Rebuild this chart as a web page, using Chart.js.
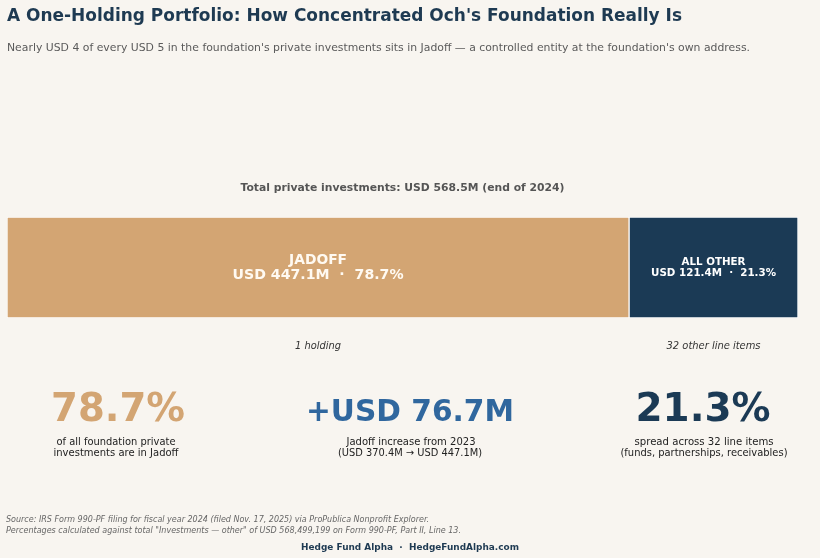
<!DOCTYPE html>
<html><head><meta charset="utf-8">
<script src="https://cdn.jsdelivr.net/npm/chart.js@4/dist/chart.umd.min.js"></script>
<style>html,body{margin:0;padding:0;background:#f8f5f0;}canvas{display:block;}</style>
</head><body>
<canvas id="c" width="820" height="558"></canvas>
<script>
const segmentNames = ['JADOFF', 'ALL OTHER'];
const segmentValues = [447.1, 121.4];          // USD millions
const segmentPercents = [78.7, 21.3];
const segmentNotes = ['1 holding', '32 other line items'];
const totalValue = 568.5;
const prior2023 = 370.4;
const increase = 76.7;
const segmentColors = ['#d3a573', '#1b3a55'];

const BG = '#f8f5f0';
const NAVY = '#1e3a52';

// draw text with natural proportions, sized so that it spans the given width
function fitText(ctx, text, x, y, font, color, align, width) {
  ctx.save();
  ctx.font = font;
  ctx.fillStyle = color;
  ctx.textBaseline = 'alphabetic';
  const m = ctx.measureText(text).width;
  const s = width ? width / m : 1;
  ctx.translate(x, y);
  ctx.scale(s, s);
  ctx.textAlign = align;
  ctx.fillText(text, 0, 0);
  ctx.restore();
}

const F = '"DejaVu Sans", sans-serif';

const overlay = {
  id: 'overlay',
  beforeDraw(chart) {
    const ctx = chart.ctx;
    ctx.save();
    ctx.fillStyle = BG;
    ctx.fillRect(0, 0, chart.width, chart.height);
    ctx.restore();
  },
  afterDraw(chart) {
    const ctx = chart.ctx;
    fitText(ctx, "A One-Holding Portfolio: How Concentrated Och's Foundation Really Is", 7, 21, 'bold 16px ' + F, NAVY, 'left', 675);
    fitText(ctx, "Nearly USD 4 of every USD 5 in the foundation's private investments sits in Jadoff \u2014 a controlled entity at the foundation's own address.", 7, 51, '11px ' + F, '#5a5a5a', 'left', 743);
    const area = chart.chartArea;
    const cx = (area.left + area.right) / 2;
    fitText(ctx, 'Total private investments: USD ' + totalValue.toFixed(1) + 'M (end of 2024)', cx, 191, 'bold 11px ' + F, '#555555', 'center', 324);

    const meta0 = chart.getDatasetMeta(0).data[0];
    const meta1 = chart.getDatasetMeta(1).data[0];
    const c0 = (meta0.base + meta0.x) / 2;
    const c1 = (meta1.base + meta1.x) / 2;
    fitText(ctx, segmentNames[0], c0, 264, 'bold 14px ' + F, '#fffaf2', 'center', 58);
    fitText(ctx, 'USD ' + segmentValues[0].toFixed(1) + 'M  \u00b7  ' + segmentPercents[0].toFixed(1) + '%', c0, 279, 'bold 14px ' + F, '#fffaf2', 'center', 171);
    fitText(ctx, segmentNames[1], c1, 265, 'bold 10px ' + F, '#ffffff', 'center', 64);
    fitText(ctx, 'USD ' + segmentValues[1].toFixed(1) + 'M  \u00b7  ' + segmentPercents[1].toFixed(1) + '%', c1, 276, 'bold 10px ' + F, '#ffffff', 'center', 125);

    fitText(ctx, segmentNotes[0], c0, 349, 'italic 9px ' + F, '#333333', 'center', 46);
    fitText(ctx, segmentNotes[1], c1, 349, 'italic 9px ' + F, '#333333', 'center', 94);

    fitText(ctx, segmentPercents[0].toFixed(1) + '%', 118, 421, 'bold 38px ' + F, segmentColors[0], 'center', 134);
    fitText(ctx, '+USD ' + increase.toFixed(1) + 'M', 410, 421, 'bold 30px ' + F, '#30679e', 'center', 208);
    fitText(ctx, segmentPercents[1].toFixed(1) + '%', 703, 421, 'bold 38px ' + F, segmentColors[1], 'center', 135);

    const cap = '10px ' + F;
    fitText(ctx, 'of all foundation private', 116, 445, cap, '#222222', 'center', 119);
    fitText(ctx, 'investments are in Jadoff', 116, 456, cap, '#222222', 'center', 125);
    fitText(ctx, 'Jadoff increase from 2023', 411, 445, cap, '#222222', 'center', 129);
    fitText(ctx, '(USD ' + prior2023.toFixed(1) + 'M \u2192 USD ' + segmentValues[0].toFixed(1) + 'M)', 410, 456, cap, '#222222', 'center', 144);
    fitText(ctx, 'spread across 32 line items', 704, 445, cap, '#222222', 'center', 139);
    fitText(ctx, '(funds, partnerships, receivables)', 704, 456, cap, '#222222', 'center', 167);

    fitText(ctx, 'Source: IRS Form 990-PF filing for fiscal year 2024 (filed Nov. 17, 2025) via ProPublica Nonprofit Explorer.', 6, 522, 'italic 8px ' + F, '#666666', 'left', 423);
    fitText(ctx, 'Percentages calculated against total "Investments \u2014 other" of USD 568,499,199 on Form 990-PF, Part II, Line 13.', 6, 533, 'italic 8px ' + F, '#666666', 'left', 455);
    fitText(ctx, 'Hedge Fund Alpha  \u00b7  HedgeFundAlpha.com', 410, 550, 'bold 10px ' + F, NAVY, 'center', 218);
  }
};

new Chart(document.getElementById('c'), {
  type: 'bar',
  data: {
    labels: ['Total'],
    datasets: segmentNames.map((n, i) => ({
      label: n,
      data: [segmentValues[i]],
      backgroundColor: segmentColors[i],
      borderColor: '#ffffff',
      borderWidth: 1,
      borderSkipped: false,
      barPercentage: 1,
      categoryPercentage: 1
    }))
  },
  options: {
    indexAxis: 'y',
    responsive: false,
    animation: false,
    layout: { padding: { left: 7, right: 22, top: 217, bottom: 240 } },
    scales: {
      x: { stacked: true, display: false, min: 0, max: totalValue },
      y: { stacked: true, display: false }
    },
    plugins: { legend: { display: false }, tooltip: { enabled: false } }
  },
  plugins: [overlay]
});
</script>
</body></html>
